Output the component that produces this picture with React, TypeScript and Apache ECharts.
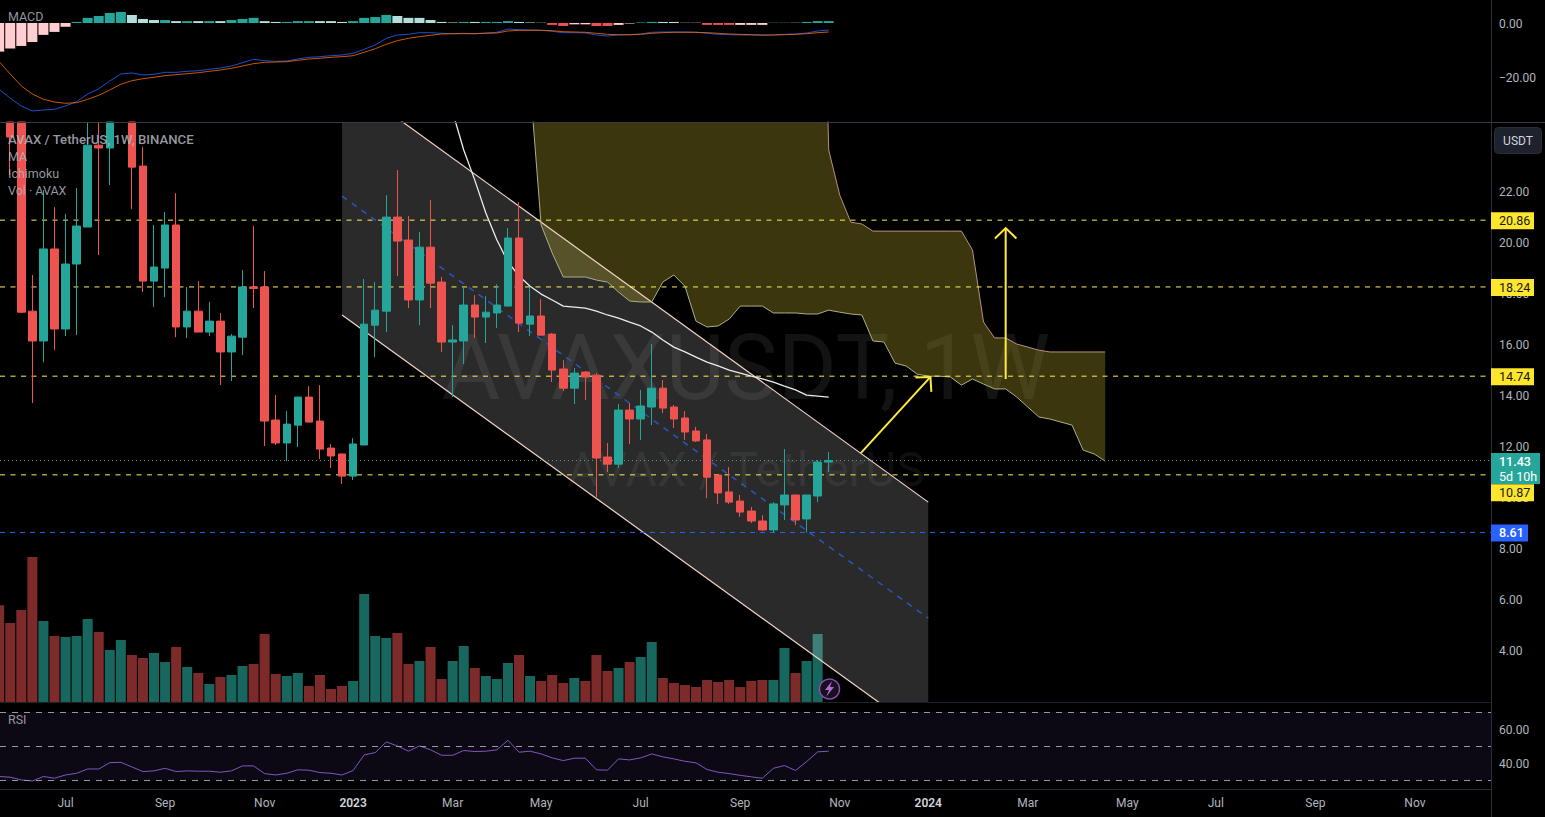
import React, { useEffect, useRef } from "react";
import * as echarts from "echarts";

const FONT = "Roboto, 'Noto Sans', sans-serif";

// the x axis counts weeks: week 0 is the bar of 6 June 2022, week 30 the bar of 2 January 2023
// weekly bars run from week -2 to week 73; each row is [open, close, low, high]
const firstWeek = -2;
const candles: number[][] = [
  [25.4, 24.9, 24.8, 25.6], [26, 24.12, 22.63, 27], [25.5, 17.25, 17.22, 26.5], [17.29, 16.12, 13.69, 18.71],
  [16.12, 19.73, 15.29, 22.04], [19.73, 16.59, 15.76, 21.37], [16.59, 19.14, 16.31, 21.1], [19.14, 20.63, 16.35, 22.12],
  [20.59, 23.8, 20.59, 25.5], [23.8, 23.69, 19.49, 25.8], [23.69, 25.4, 22.24, 26], [25.3, 26, 24.9, 26.4],
  [25.5, 22.94, 21.29, 26], [22.98, 18.47, 18.04, 23.73], [18.47, 19.02, 17.45, 20.67], [18.98, 20.67, 17.84, 21.18],
  [20.67, 16.67, 16.27, 21.92], [16.67, 17.29, 16.24, 18.24], [17.29, 16.47, 16.47, 18.47], [16.47, 16.9, 16.31, 17.65],
  [16.9, 15.69, 14.39, 17.22], [15.69, 16.31, 14.55, 16.39], [16.27, 18.24, 15.57, 18.9], [18.24, 18.18, 17.41, 20.63],
  [18.24, 12.98, 12, 18.86], [13.02, 12.12, 12.04, 14], [12.12, 12.86, 11.41, 13.37], [12.82, 13.92, 11.96, 13.92],
  [13.92, 12.94, 12.94, 14.35], [12.98, 11.88, 11.49, 14.39], [11.92, 11.61, 11.14, 12.08], [11.69, 10.82, 10.51, 11.69],
  [10.82, 12.08, 10.67, 12.31], [12.04, 16.78, 12.04, 18.55], [16.74, 17.33, 15.49, 18.43], [17.29, 20.98, 16.47, 21.84],
  [20.98, 20.04, 18.67, 22.82], [20.08, 17.73, 17.41, 21.02], [17.73, 19.8, 16.74, 20.39], [19.8, 18.39, 17.41, 21.65],
  [18.43, 16.08, 15.69, 18.63], [16.08, 16.16, 13.92, 16.74], [16.12, 17.53, 15.22, 18.24], [17.53, 17.06, 16.24, 17.92],
  [17.06, 17.25, 16.04, 17.88], [17.22, 17.53, 16.63, 18.35], [17.49, 20.16, 17.49, 20.55], [20.16, 16.82, 16.47, 21.57],
  [16.78, 17.1, 16.31, 18.24], [17.1, 16.35, 16.35, 17.76], [16.39, 14.98, 14.51, 16.43], [15.02, 14.27, 14.16, 15.37],
  [14.27, 14.86, 13.65, 15.06], [14.9, 14.71, 13.8, 14.94], [14.78, 11.53, 10, 14.86], [11.57, 11.29, 10.98, 12.12],
  [11.29, 13.41, 11.14, 13.65], [13.41, 13.06, 12.08, 13.69], [13.06, 13.57, 12.24, 14.2], [13.53, 14.27, 12.82, 16],
  [14.27, 13.49, 13.29, 14.59], [13.53, 13.06, 12.71, 13.61], [13.1, 12.55, 12.24, 13.37], [12.59, 12.2, 12.16, 12.75],
  [12.24, 10.78, 9.96, 12.47], [10.86, 10.16, 9.73, 10.86], [10.2, 9.8, 9.73, 11.18], [9.84, 9.41, 9.22, 10.08],
  [9.45, 9.06, 8.98, 9.61], [9.06, 8.71, 8.67, 9.29], [8.71, 9.73, 8.59, 9.8], [9.69, 10.08, 9.1, 11.88],
  [10.08, 9.1, 8.9, 10.08], [9.14, 10.08, 8.61, 10.08], [10.04, 11.37, 9.8, 11.45], [11.37, 11.43, 10.98, 11.76],
];

// volume from week -2 to week 72
const volumes = [
  9.67, 7.9, 9.2, 14.5, 8.1, 6.6, 6.5, 6.6, 8.3, 7.0, 5.2, 6.2, 4.7, 4.4, 4.9, 4.0, 5.5, 3.5, 2.9, 1.8, 2.5, 2.7, 3.6, 3.8, 6.8,
  2.8, 2.6, 2.9, 1.6, 2.7, 1.3, 1.6, 2.1, 10.8, 6.6, 6.4, 6.9, 3.8, 4.1, 5.5, 2.3, 4.1, 5.6, 3.4, 2.6, 2.3, 3.9, 4.7, 2.6, 2.1,
  2.7, 1.9, 2.4, 2.1, 4.7, 3.1, 3.4, 4.0, 4.5, 6.0, 2.4, 1.9, 1.7, 1.5, 2.2, 2.0, 2.2, 1.5, 2.1, 2.2, 2.2, 5.4, 2.9, 4.1, 6.8,
];

// MACD histogram from week -2 to week 73
const macdHist = [
  -10.6, -9.4, -8.5, -7.0, -4.4, -3.3, -1.4, 0.4, 1.9, 2.6, 3.7, 4.1, 3.0, 1.5, 1.1, 1.1, 0.7, 0.7, 0.7, 0.7, 0.7, 1.1, 1.5, 1.9, 0.7,
  0.4, 0.4, 0.7, 0.7, 0.7, 0.7, 0.4, 0.7, 1.9, 2.2, 3.0, 2.6, 1.9, 1.9, 1.1, 0.4, 0.2, 0.4, 0.4, 0.4, 0.4, 0.7, 0.4, 0.2, 0.1,
  -0.7, -1.1, -0.5, -0.5, -1.1, -1.1, -0.7, -0.2, 0.2, 0.4, 0.4, 0.4, 0.1, 0.1, -0.7, -0.7, -0.7, -0.7, -0.7, -0.7, 0.1, 0.1, 0.1, 0.4, 0.7, 0.7,
];
// G strong up, g fading up, R strong down, r fading down
const macdHistTone = [
  "r", "r", "r", "r", "r", "r", "r", "G", "G", "G", "G", "G", "g", "g", "g", "G", "g", "G", "g", "G", "g", "G", "G", "G", "g",
  "g", "G", "G", "G", "g", "g", "g", "G", "G", "G", "G", "g", "g", "g", "g", "g", "g", "G", "g", "G", "G", "G", "g", "g", "g",
  "R", "R", "r", "r", "R", "R", "r", "r", "G", "G", "g", "g", "g", "g", "R", "R", "R", "r", "r", "r", "G", "G", "g", "G", "G", "G",
];
const macdLine = [
  -24.56, -27.89, -30.74, -32.59, -32.22, -31.96, -30.74, -29.15, -26.3, -24.33, -21.48, -18.89, -18.52, -19.26, -19.0, -18.26, -18.26, -17.89, -17.67,
  -17.15, -16.67, -15.93, -14.7, -13.44, -13.96, -14.19, -14.07, -13.33, -12.7, -12.48, -12.11, -11.85, -11.22, -9.74, -8.15, -5.67, -4.44, -4.19, -3.59,
  -3.59, -3.81, -3.96, -3.81, -3.96, -3.7, -3.44, -2.22, -2.48, -2.59, -2.7, -3.07, -3.59, -3.59, -3.7, -4.44, -4.81, -4.44, -4.33, -4.07,
  -3.44, -3.33, -3.33, -3.33, -3.44, -3.81, -4.19, -4.33, -4.44, -4.44, -4.56, -4.44, -4.19, -4.07, -3.7, -2.96, -2.59,
];
const macdSignal = [
  -14.33, -18.89, -23.33, -26.3, -28.26, -29.26, -29.74, -29.52, -28.26, -26.78, -24.81, -22.7, -21.37, -20.63, -20.11, -19.52, -19.15, -18.78, -18.41,
  -17.89, -17.41, -16.78, -15.93, -15.07, -14.56, -14.44, -14.33, -13.81, -13.33, -13.07, -12.7, -12.48, -12.11, -10.85, -9.52, -7.89, -6.56, -5.67, -5.07,
  -4.56, -4.07, -3.96, -3.96, -3.96, -3.81, -3.7, -2.96, -2.7, -2.7, -2.7, -2.85, -3.22, -3.33, -3.44, -3.81, -4.19, -4.33, -4.33, -4.19,
  -3.81, -3.59, -3.44, -3.44, -3.44, -3.59, -3.81, -4.07, -4.19, -4.33, -4.44, -4.44, -4.33, -4.19, -3.96, -3.59, -3.33,
];

// RSI from week -2 to week 73
const rsi = [
  32.3, 31.9, 30.3, 29.7, 32.3, 31.3, 33.2, 34.2, 36.7, 36.7, 40.4, 40.6, 37.9, 35.2, 35.6, 37.1, 35.2, 35.6, 35.4, 35.4, 34.8, 35.6, 38.5, 38.5, 34.0,
  33.2, 34.2, 36.2, 36.0, 34.6, 34.2, 33.2, 35.8, 44.9, 46.3, 52.5, 50.2, 47.1, 50.2, 47.9, 44.7, 44.7, 47.5, 46.9, 47.1, 47.9, 53.5, 46.5, 47.1, 45.5,
  43.2, 41.6, 43.0, 43.0, 36.2, 36.0, 42.6, 42.0, 43.2, 45.5, 43.8, 42.6, 41.2, 40.3, 36.4, 34.8, 34.0, 33.0, 32.1, 31.3, 37.1, 38.7, 35.8, 41.0, 46.7, 47.1,
];

// moving average from week 39 to week 73
const maFirstWeek = 39;
const movingAverage = [
  25.1, 23.61, 22.43, 21.14, 20.08, 19.22, 18.67, 18.27, 17.96, 17.73, 17.49, 17.45, 17.41, 17.29, 17.14, 17.02, 16.86, 16.71, 16.47, 16.16,
  15.88, 15.69, 15.49, 15.29, 15.14, 14.98, 14.86, 14.74, 14.63, 14.51, 14.35, 14.2, 14.0, 13.96, 13.92,
];

// Ichimoku cloud from week 46 to week 98
const cloudFirstWeek = 46;
const cloudLower = [
  26.24, 20.67, 19.57, 18.63, 18.63, 18.63, 18.51, 18.43, 18.04, 17.69, 17.65, 17.65, 18.43, 18.71, 18.27, 16.9, 16.67, 16.71, 16.98, 17.49,
  17.49, 17.49, 17.22, 17.22, 17.22, 17.18, 17.18, 17.33, 17.25, 17.18, 17.14, 16.12, 16.08, 15.25, 15.14, 14.82, 14.74, 14.74, 14.71, 14.39,
  14.63, 14.43, 14.24, 14.24, 13.92, 13.53, 13.14, 13.06, 12.94, 12.82, 11.84, 11.69, 11.41,
];
const cloudUpper = [
  41, 41, 41, 41, 41, 41, 41, 41, 41, 41, 41, 41, 41, 41, 41, 41, 41, 41, 41, 41,
  41, 41, 41, 41, 41, 41, 40.9, 23.61, 21.84, 20.78, 20.71, 20.43, 20.43, 20.43, 20.43, 20.43, 20.43, 20.43, 20.43, 20.43,
  19.69, 16.86, 16.24, 16.24, 16.0, 15.88, 15.76, 15.69, 15.69, 15.69, 15.69, 15.69, 15.69,
];

// descending channel, two ends each
const channelWeeks = [29, 82];
const channelTop = [26.43, 9.8];
const channelMiddle = [21.8, 5.25];
const channelBottom = [17.14, 0.55];

// arrows: [from week, from price, to week, to price]
const arrows = [
  [75.9, 11.72, 82.2, 14.71],
  [89, 14.63, 89, 20.55],
];

const yellowLevels = [20.86, 18.24, 14.74, 10.87];
const blueLevel = 8.61;
const lastPrice = 11.43;
const countdown = "5d 10h";
const rsiLevels = [70, 50, 30];

const priceTicks = [4, 6, 8, 10, 12, 14, 16, 18, 20, 22];
const macdTicks = [-20, 0];
const rsiTicks = [40, 60];
const xTickWeeks = [4, 13, 22, 30, 39, 47, 56, 65, 74, 82, 91, 100, 108, 117, 126];
const xTickLabels = ["Jul", "Sep", "Nov", "2023", "Mar", "May", "Jul", "Sep", "Nov", "2024", "Mar", "May", "Jul", "Sep", "Nov"];

const UP = "#26a69a";
const DOWN = "#ef5350";
const AXIS_TEXT = "#b2b5be";
const BORDER = "#2a2e39";
const toneColors: Record<string, string> = { G: "#26a69a", g: "#b2dfdb", R: "#ef5350", r: "#ffcdd2" };

const axisEnd = 132.88;
const axisStart = -1.926;
const priceMin = 1.96;
const priceMax = 24.71;

function series2(first: number, values: number[]) {
  return values.map((v, k) => [first + k, v]);
}

function lightningPoints() {
  return [
    [832, 681], [825, 690], [829, 690], [826, 697], [834, 687], [830, 687],
  ];
}

function buildOption() {
  const xBase = { type: "value" as const, min: axisStart, max: axisEnd, axisLine: { show: false }, axisTick: { show: false }, splitLine: { show: false } };
  const yBase = { position: "right" as const, splitLine: { show: false }, axisLine: { show: false }, axisTick: { show: false } };
  const labelBase = {
    color: AXIS_TEXT, fontFamily: FONT, fontSize: 12, margin: 8, align: "left" as const,
    rich: { v: { color: AXIS_TEXT, fontFamily: FONT, fontSize: 12, padding: [2, 0, 0, 0] } },
  };
  const tickLabelByWeek = new Map(xTickWeeks.map((w, k) => [w, xTickLabels[k]]));

  const flatLine = (value: number, color: string, dash: any, z: number, name: string) => ({
    type: "line",
    name,
    xAxisIndex: 1,
    yAxisIndex: 1,
    data: [[axisStart, value], [axisEnd, value]],
    symbol: "none",
    silent: true,
    z,
    lineStyle: { color, width: 1, type: dash },
  });

  const channelLine = (values: number[], color: string, dash: any, width: number, name: string) => ({
    type: "line",
    name,
    xAxisIndex: 1,
    yAxisIndex: 1,
    data: channelWeeks.map((w, k) => [w, values[k]]),
    symbol: "none",
    silent: true,
    z: 4,
    lineStyle: { color, width, type: dash },
  });

  return {
    animation: false,
    backgroundColor: "#000000",
    textStyle: { fontFamily: FONT },
    grid: [
      { left: 0, width: 1491, top: 0, height: 122 },
      { left: 0, width: 1491, top: 122, height: 580 },
      { left: 0, width: 1491, top: 702, height: 87 },
    ],
    xAxis: [
      { ...xBase, gridIndex: 0, axisLabel: { show: false } },
      { ...xBase, gridIndex: 1, axisLabel: { show: false } },
      {
        ...xBase,
        gridIndex: 2,
        axisLabel: {
          color: AXIS_TEXT,
          fontFamily: FONT,
          fontSize: 12,
          margin: 8,
          customValues: xTickWeeks,
          hideOverlap: false,
          formatter: (v: number) => {
            const s = tickLabelByWeek.get(v) ?? "";
            return /^\d+$/.test(s) ? `{y|${s}}` : s;
          },
          rich: { y: { color: "#d1d4dc", fontFamily: FONT, fontSize: 12, fontWeight: 600 } },
        },
      },
    ],
    yAxis: [
      {
        ...yBase, gridIndex: 0, type: "value", min: -36.67, max: 8.52,
        axisLabel: { ...labelBase, customValues: macdTicks, formatter: (v: number) => `{v|${v.toFixed(2).replace("-", "\u2212")}}` },
      },
      {
        ...yBase, gridIndex: 1, type: "value", min: priceMin, max: priceMax,
        axisLabel: { ...labelBase, customValues: priceTicks, formatter: (v: number) => `{v|${v.toFixed(2)}}` },
      },
      { ...yBase, gridIndex: 1, type: "value", min: 0, max: 58, axisLabel: { show: false } },
      {
        ...yBase, gridIndex: 2, type: "value", min: 25, max: 75.85,
        axisLabel: { ...labelBase, customValues: rsiTicks, formatter: (v: number) => `{v|${v.toFixed(2)}}` },
      },
    ],
    series: [
      {
        type: "bar", name: "MACD histogram", xAxisIndex: 0, yAxisIndex: 0, barWidth: 10, z: 2, silent: true,
        data: macdHist.map((v, k) => ({ value: [firstWeek + k, v], itemStyle: { color: toneColors[macdHistTone[k]] } })),
      },
      { type: "line", name: "MACD", xAxisIndex: 0, yAxisIndex: 0, data: series2(firstWeek, macdLine), symbol: "none", silent: true, z: 3, lineStyle: { color: "#2962ff", width: 1, opacity: 0.8 } },
      { type: "line", name: "Signal", xAxisIndex: 0, yAxisIndex: 0, data: series2(firstWeek, macdSignal), symbol: "none", silent: true, z: 4, lineStyle: { color: "#ff6d00", width: 1, opacity: 0.8 } },

      {
        type: "bar", name: "Volume", xAxisIndex: 1, yAxisIndex: 2, barWidth: 10, z: 1, silent: true,
        data: volumes.map((v, k) => ({
          value: [firstWeek + k, v],
          itemStyle: { color: candles[k][1] >= candles[k][0] ? "rgba(38,166,154,0.62)" : "rgba(239,83,80,0.52)" },
        })),
      },
      {
        type: "custom", name: "Channel fill", xAxisIndex: 1, yAxisIndex: 1, z: 2, clip: true, silent: true,
        data: [[channelWeeks[0], channelTop[0]]],
        renderItem: (_p: any, api: any) => ({
          type: "polygon",
          shape: {
            points: [
              api.coord([channelWeeks[0], channelTop[0]]),
              api.coord([channelWeeks[1], channelTop[1]]),
              api.coord([channelWeeks[1], channelBottom[1]]),
              api.coord([channelWeeks[0], channelBottom[0]]),
            ],
          },
          style: { fill: "rgba(255,255,255,0.165)" },
        }),
      },
      channelLine(channelTop, "#f3d6c8", "solid", 1.2, "Channel top"),
      channelLine(channelBottom, "#f3d6c8", "solid", 1.2, "Channel bottom"),
      channelLine(channelMiddle, "#2a55c0", [6, 6], 1.5, "Channel middle"),
      {
        type: "custom", name: "Cloud fill", xAxisIndex: 1, yAxisIndex: 1, z: 3, clip: true, silent: true,
        data: [[cloudFirstWeek, cloudLower[0]]],
        renderItem: (_p: any, api: any) => ({
          type: "polygon",
          shape: {
            points: [
              ...cloudLower.map((v, k) => api.coord([cloudFirstWeek + k, v])),
              ...cloudUpper.map((v, k) => api.coord([cloudFirstWeek + k, v])).reverse(),
            ],
          },
          style: { fill: "rgba(178,165,40,0.33)" },
        }),
      },
      { type: "line", name: "Senkou A", xAxisIndex: 1, yAxisIndex: 1, data: series2(cloudFirstWeek, cloudLower), symbol: "none", silent: true, z: 4, lineStyle: { color: "#a9b186", width: 1 } },
      { type: "line", name: "Senkou B", xAxisIndex: 1, yAxisIndex: 1, data: series2(cloudFirstWeek, cloudUpper), symbol: "none", silent: true, z: 4, lineStyle: { color: "#b8907f", width: 1 } },
      ...yellowLevels.map((v) => flatLine(v, "#ffee58", [5, 5.5], 5, `Level ${v}`)),
      flatLine(blueLevel, "#2962ff", [5, 5], 5, "Low"),
      flatLine(lastPrice, "#5d9b94", [1, 3], 5, "Last price"),
      { type: "line", name: "MA", xAxisIndex: 1, yAxisIndex: 1, data: series2(maFirstWeek, movingAverage), symbol: "none", silent: true, z: 5, lineStyle: { color: "#ececec", width: 1.3 } },
      {
        type: "candlestick", name: "AVAXUSDT", xAxisIndex: 1, yAxisIndex: 1, barWidth: 8, z: 6, silent: true,
        // bars above the pane's top stay out; the others are cut at the top of the pane
        data: candles
          .map((c, k) => ({ week: firstWeek + k, c }))
          .filter(({ c }) => Math.min(...c) < priceMax)
          .map(({ week, c }) => [week, ...c.map((v) => Math.min(v, priceMax))]),
        itemStyle: { color: UP, color0: DOWN, borderColor: UP, borderColor0: DOWN, borderWidth: 1 },
      },
      {
        type: "custom", name: "Arrows", xAxisIndex: 1, yAxisIndex: 1, z: 7, clip: true, silent: true,
        data: arrows.map((a) => [a[0], a[1]]),
        renderItem: (p: any, api: any) => {
          const a = arrows[p.dataIndex];
          const from = api.coord([a[0], a[1]]);
          const to = api.coord([a[2], a[3]]);
          const ang = Math.atan2(from[1] - to[1], from[0] - to[0]);
          const barb = (d: number) => [to[0] + 15 * Math.cos(ang + d), to[1] + 15 * Math.sin(ang + d)];
          const style = { stroke: "#ffeb3b", lineWidth: 2, fill: "none" };
          return {
            type: "group",
            children: [
              { type: "polyline", shape: { points: [from, to] }, style },
              { type: "polyline", shape: { points: [barb(0.8), to, barb(-0.8)] }, style },
            ],
          };
        },
      },
      {
        type: "custom", name: "Price tags", xAxisIndex: 1, yAxisIndex: 1, z: 12, clip: false, silent: true,
        data: [...yellowLevels, blueLevel, lastPrice].map((v) => [73, v]),
        renderItem: (p: any, api: any) => {
          const v = api.value(1) as number;
          const left = p.coordSys.x + p.coordSys.width;
          const y0 = api.coord([73, v])[1] + 0.5;
          const isLast = v === lastPrice;
          const isBlue = v === blueLevel;
          const y = v === 10.87 ? y0 + 17.5 : isLast ? y0 + 7.5 : y0;
          const h = isLast ? 31 : 17;
          const w = isLast ? 49 : isBlue ? 37 : 43;
          const fill = isLast ? UP : isBlue ? "#2962ff" : "#fde62b";
          const ink = isLast || isBlue ? "#ffffff" : "#131722";
          const text = (str: string, ty: number, weight: number) => ({
            type: "text",
            style: {
              text: str, x: left + 8, y: ty, fill: ink, font: `${weight} 12.5px ${FONT}`,
              align: "left", verticalAlign: "middle", textAlign: "left", textVerticalAlign: "middle",
            },
          });
          return {
            type: "group",
            children: [
              { type: "rect", shape: { x: left, y: y - h / 2, width: w, height: h }, style: { fill } },
              ...(isLast
                ? [text(v.toFixed(2), y - 7, 500), text(countdown, y + 7.5, 400)]
                : [text(v.toFixed(2), y, isBlue ? 500 : 400)]),
            ],
          };
        },
      },
      {
        type: "line", name: "RSI", xAxisIndex: 2, yAxisIndex: 3, data: series2(firstWeek, rsi), symbol: "none", silent: true, z: 4,
        lineStyle: { color: "#7e57c2", width: 1 },
        markArea: { silent: true, itemStyle: { color: "rgba(126,87,194,0.1)" }, data: [[{ yAxis: rsiLevels[0] }, { yAxis: rsiLevels[2] }]] },
        markLine: {
          silent: true, symbol: "none", label: { show: false },
          lineStyle: { color: "#9598a1", width: 1, type: [6, 6] },
          data: rsiLevels.map((v) => ({ yAxis: v })),
        },
      },
    ],
    graphic: [
      { type: "text", z: 0, silent: true, x: 746, y: 368, style: { text: "AVAXUSDT, 1W", fill: "rgba(255,255,255,0.075)", font: `90px ${FONT}`, align: "center", verticalAlign: "middle", textAlign: "center", textVerticalAlign: "middle" } },
      { type: "text", z: 0, silent: true, x: 746, y: 469, style: { text: "AVAX / TetherUS", fill: "rgba(255,255,255,0.075)", font: `48px ${FONT}`, align: "center", verticalAlign: "middle", textAlign: "center", textVerticalAlign: "middle" } },
      ...[
        { t: "MACD", y: 16 },
        { t: "AVAX / TetherUS, 1W, BINANCE", y: 139, f: "500 13.2px" },
        { t: "MA", y: 156 },
        { t: "Ichimoku", y: 173 },
        { t: "Vol \u00b7 AVAX", y: 190 },
        { t: "RSI", y: 719 },
      ].map((l) => ({
        type: "text", z: 20, silent: true, x: 8, y: l.y,
        style: { text: l.t, fill: "rgba(178,181,190,0.85)", font: `${(l as any).f ?? "400 12.5px"} ${FONT}`, textVerticalAlign: "middle", verticalAlign: "middle" },
      })),
      { type: "line", z: 9, silent: true, shape: { x1: 0, y1: 122.5, x2: 1545, y2: 122.5 }, style: { stroke: "#363a45", lineWidth: 1 } },
      { type: "line", z: 9, silent: true, shape: { x1: 0, y1: 702.5, x2: 1491, y2: 702.5 }, style: { stroke: "#1c1f27", lineWidth: 1 } },
      { type: "line", z: 9, silent: true, shape: { x1: 0, y1: 789.5, x2: 1491, y2: 789.5 }, style: { stroke: BORDER, lineWidth: 1 } },
      { type: "line", z: 9, silent: true, shape: { x1: 1491.5, y1: 0, x2: 1491.5, y2: 817 }, style: { stroke: BORDER, lineWidth: 1 } },
      { type: "rect", z: 21, silent: true, shape: { x: 1494.5, y: 127.5, width: 47, height: 26, r: 4 }, style: { fill: "#1e222d", stroke: "#2a2e39", lineWidth: 1 } },
      { type: "text", z: 22, silent: true, x: 1518, y: 140.5, style: { text: "USDT", fill: "#d1d4dc", font: `12px ${FONT}`, align: "center", verticalAlign: "middle", textAlign: "center", textVerticalAlign: "middle" } },
      { type: "circle", z: 21, silent: true, shape: { cx: 829.5, cy: 689, r: 10 }, style: { fill: "#17101f", stroke: "#8e4bb0", lineWidth: 1.5 } },
      { type: "polygon", z: 22, silent: true, shape: { points: lightningPoints() }, style: { fill: "#b06ad0" } },
    ],
  };
}

export default function App() {
  const ref = useRef<HTMLDivElement>(null);
  useEffect(() => {
    if (!ref.current) return;
    document.body.style.margin = "0";
    document.body.style.background = "#000";
    const chart = echarts.init(ref.current, undefined, { renderer: "svg" });
    chart.setOption(buildOption() as any);
    return () => chart.dispose();
  }, []);
  return <div ref={ref} style={{ position: "fixed", left: 0, top: 0, width: 1545, height: 817, background: "#000" }} />;
}
